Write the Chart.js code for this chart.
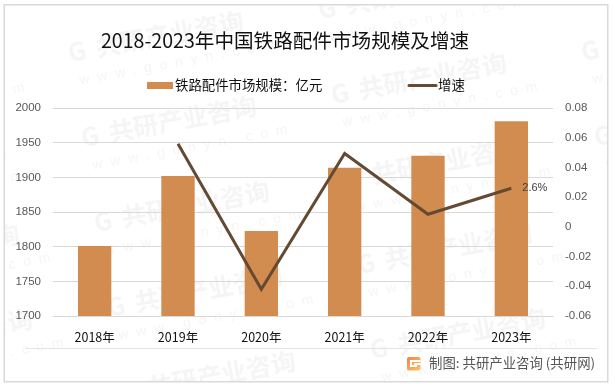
<!DOCTYPE html>
<html>
<head>
<meta charset="utf-8">
<script src="https://cdn.jsdelivr.net/npm/chart.js@4"></script>
<style>
    html, body { margin: 0; padding: 0; background: #fff; }
    canvas { display: block; }
</style>
</head>
<body>
<canvas id="chart" width="615" height="387"></canvas>
<script>
const years = ['2018年', '2019年', '2020年', '2021年', '2022年', '2023年'];
const marketSize = [1801, 1902, 1822.5, 1914, 1931, 1981];
const growthRate = [null, 0.056, -0.042, 0.0494, 0.0085, 0.026];
const growthLabels = [null, null, null, null, null, '2.6%'];

const titleText = '2018-2023年中国铁路配件市场规模及增速';
const sourceText = '制图: 共研产业咨询 (共研网)';

const barColor = '#d38c4f';
const lineColor = '#644a33';
const cjkFont = '"Noto Sans CJK SC", "Noto Sans", sans-serif';
const tickFont = '"Liberation Sans", sans-serif';

// faint repeating watermark behind the plot
function drawWatermarks(ctx) {
    ctx.save();
    ctx.beginPath();
    ctx.rect(5, 5, 603, 376);
    ctx.clip();
    for (let col = -1; col < 4; col++) {
        for (let row = -1; row < 6; row++) {
            const x = 70 + col * 250 + row * 13;
            const y = 62 - col * 43 + row * 85;
            ctx.save();
            ctx.translate(x, y);
            ctx.rotate(-10.5 * Math.PI / 180);
            ctx.fillStyle = '#f5f5f5';
            ctx.font = 'bold 25px ' + cjkFont;
            ctx.textAlign = 'left';
            ctx.textBaseline = 'alphabetic';
            ctx.fillText('G', 0, 0);
            ctx.fillText('共研产业咨询', 28, 0);
            ctx.font = '14px "Liberation Sans", sans-serif';
            ctx.letterSpacing = '8px';
            ctx.fillText('www.gonyn.com', 6, 24);
            ctx.restore();
        }
    }
    ctx.restore();
}

const decorPlugin = {
    id: 'decor',
    beforeDraw(chart) {
        const ctx = chart.ctx;
        ctx.save();
        ctx.fillStyle = '#fff';
        ctx.fillRect(0, 0, chart.width, chart.height);
        drawWatermarks(ctx);
        ctx.strokeStyle = '#d9d9d9';
        ctx.lineWidth = 1.5;
        ctx.strokeRect(4.25, 4.75, 603.5, 377);
        ctx.lineWidth = 1;
        ctx.strokeStyle = '#e4e4e4';
        ctx.beginPath();
        ctx.moveTo(25, 348.5);
        ctx.lineTo(597, 348.5);
        ctx.stroke();
        ctx.restore();
    },
    afterDraw(chart) {
        const ctx = chart.ctx;
        ctx.save();

        // title sits left of centre in the original
        ctx.font = '19.6px ' + cjkFont;
        ctx.textBaseline = 'middle';
        ctx.textAlign = 'left';
        ctx.fillStyle = '#111';
        ctx.fillText(titleText, 101, 41);

        // legend
        ctx.font = '13.4px ' + cjkFont;
        ctx.fillStyle = barColor;
        ctx.fillRect(147, 82, 26, 7);
        ctx.fillStyle = '#111';
        ctx.fillText(chart.data.datasets[1].label, 175, 85);
        ctx.strokeStyle = lineColor;
        ctx.lineWidth = 3;
        ctx.lineCap = 'round';
        ctx.beginPath();
        ctx.moveTo(409, 85.5);
        ctx.lineTo(436, 85.5);
        ctx.stroke();
        ctx.fillText(chart.data.datasets[0].label, 438, 85);

        // label on the line
        ctx.font = '11px ' + tickFont;
        ctx.fillStyle = '#404040';
        const pts = chart.getDatasetMeta(0).data;
        growthLabels.forEach((txt, i) => {
            if (txt) ctx.fillText(txt, pts[i].x + 11, pts[i].y);
        });

        // footer logo and source
        const grad = ctx.createLinearGradient(407, 356, 420, 370);
        grad.addColorStop(0, '#f27f4d');
        grad.addColorStop(1, '#fbc16a');
        ctx.fillStyle = grad;
        ctx.beginPath();
        ctx.roundRect(407, 357, 13.5, 13.5, 2);
        ctx.fill();
        ctx.fillStyle = '#fff';
        ctx.fillRect(410, 360, 10.5, 2);
        ctx.fillRect(410, 360, 2, 7);
        ctx.fillRect(412, 365, 5, 2);
        ctx.fillRect(414, 363, 6.5, 2);

        ctx.font = '13.4px ' + cjkFont;
        ctx.fillStyle = '#555';
        ctx.fillText(sourceText, 429, 363);
        ctx.restore();
    }
};

const ctx = document.getElementById('chart').getContext('2d');
new Chart(ctx, {
    data: {
        labels: years,
        datasets: [
            {
                type: 'line',
                label: '增速',
                data: growthRate,
                yAxisID: 'y1',
                borderColor: lineColor,
                borderWidth: 3,
                pointRadius: 0,
                tension: 0,
                order: 1
            },
            {
                type: 'bar',
                label: '铁路配件市场规模：亿元',
                data: marketSize,
                yAxisID: 'y',
                backgroundColor: barColor,
                categoryPercentage: 0.4,
                barPercentage: 1,
                order: 2
            }
        ]
    },
    plugins: [decorPlugin],
    options: {
        responsive: false,
        animation: false,
        layout: { padding: { left: 0, right: 0, top: 108, bottom: 0 } },
        plugins: {
            legend: { display: false },
            tooltip: { enabled: false },
            title: { display: false }
        },
        scales: {
            x: {
                grid: { display: false },
                border: { color: '#d9d9d9' },
                ticks: { color: '#111', font: { family: cjkFont, size: 12.5 }, padding: 6 },
                afterFit(scale) { scale.height = 71; }
            },
            y: {
                position: 'left',
                min: 1700,
                max: 2000,
                ticks: {
                    stepSize: 50,
                    color: '#595959',
                    font: { family: tickFont, size: 11.5 },
                    padding: 12,
                    callback: value => String(value)
                },
                grid: { color: '#d9d9d9', drawTicks: false },
                border: { display: false },
                afterFit(scale) { scale.width = 53; }
            },
            y1: {
                position: 'right',
                min: -0.06,
                max: 0.08,
                ticks: { stepSize: 0.02, color: '#595959', font: { family: tickFont, size: 11.5 }, padding: 12 },
                grid: { display: false, drawTicks: false },
                border: { display: false },
                afterFit(scale) { scale.width = 62; }
            }
        }
    }
});
</script>
</body>
</html>
